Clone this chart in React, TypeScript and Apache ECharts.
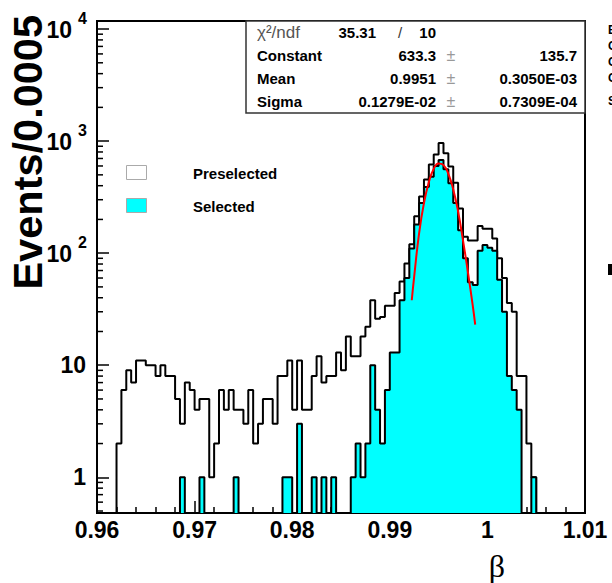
import React, { useEffect, useRef } from 'react';
import * as echarts from 'echarts';

const X_MIN = 0.96;
const X_MAX = 1.01;
const X_STEP = 0.01;
const BIN_WIDTH = 0.0005;
const Y_MIN = 0.48;
const Y_MAX = 11800;

// Preselected counts per bin (100 bins of 0.0005 from 0.96)
const preselected = [
  0, 0, 0, 0, 2, 6, 9, 7, 11, 11,
  10, 10, 8, 10, 8, 8, 5, 3, 7, 6,
  4, 5, 5, 1, 2, 6, 4, 6, 4, 4,
  3, 6, 2, 3, 5, 5, 3, 8, 8, 11,
  4, 11, 4, 4, 8, 12, 7, 8, 8, 13,
  9, 18, 12, 12, 18, 22, 38, 26, 27, 34,
  34, 44, 56, 81, 120, 213, 320, 455, 620, 760,
  960, 780, 595, 425, 250, 140, 130, 130, 175, 165,
  165, 135, 90, 60, 36, 30, 8, 8, 2, 1,
  0, 0, 0, 0, 0, 0, 0, 0, 0, 0,
];

// Selected counts per bin
const selected = [
  0, 0, 0, 0, 0, 0, 0, 0, 0, 0,
  0, 0, 0, 0, 0, 0, 0, 1, 0, 0,
  0, 1, 0, 0, 0, 0, 0, 0, 1, 0,
  0, 0, 0, 0, 0, 0, 0, 0, 1, 1,
  0, 3, 0, 0, 1, 0, 1, 0, 1, 0,
  0, 0, 1, 2, 1, 2, 10, 4, 2, 6,
  13, 13, 38, 60, 110, 180, 280, 390, 480, 600,
  680, 560, 420, 280, 160, 90, 55, 52, 105, 118,
  112, 105, 58, 30, 8, 6, 4, 0, 0, 1,
  0, 0, 0, 0, 0, 0, 0, 0, 0, 0,
];

// Gaussian fit curve
const fitX = [0.99225, 0.9925, 0.993, 0.9935, 0.994, 0.9945, 0.995, 0.9955, 0.996, 0.9965, 0.997, 0.9975, 0.998, 0.9985, 0.99875];
const fitY = [38, 62, 150, 280, 430, 565, 632, 610, 510, 370, 235, 130, 68, 34, 23];

// y tick labels written as 10^n
const yPowerLabels = [2, 3, 4];

const yMinorTicks = [
  0.5, 0.6, 0.7, 0.8, 0.9,
  2, 3, 4, 5, 6, 7, 8, 9,
  20, 30, 40, 50, 60, 70, 80, 90,
  200, 300, 400, 500, 600, 700, 800, 900,
  2000, 3000, 4000, 5000, 6000, 7000, 8000, 9000,
];

const statsLabels = ['Constant', 'Mean', 'Sigma'];
const statsValues = ['633.3', '0.9951', '0.1279E-02'];
const statsErrors = ['135.7', '0.3050E-03', '0.7309E-04'];
const chiValue = '35.31';
const ndfValue = '10';

const legendNames = ['Preselected', 'Selected'];

const SANS = 'Liberation Sans, Arial, Helvetica, sans-serif';

function stepData(counts: number[]) {
  const pts: number[][] = [];
  for (let i = 0; i < counts.length; i++) {
    pts.push([X_MIN + i * BIN_WIDTH, Math.max(counts[i], Y_MIN)]);
  }
  pts.push([X_MAX, Math.max(counts[counts.length - 1], Y_MIN)]);
  return pts;
}

function txt(x: number, y: number, text: string, opts: any = {}) {
  const align = opts.align || 'left';
  return {
    type: 'text',
    x,
    y,
    z: 20,
    rotation: opts.rotation || 0,
    style: {
      text,
      fill: opts.color || '#000',
      fontSize: opts.fontSize || 15,
      fontWeight: opts.fontWeight || 'bold',
      fontFamily: opts.fontFamily || SANS,
      align,
      textAlign: align,
      verticalAlign: 'middle',
      textVerticalAlign: 'middle',
    },
  };
}

export default function App() {
  const ref = useRef<HTMLDivElement>(null);

  useEffect(() => {
    if (!ref.current) return;
    const chart = echarts.init(ref.current, null, { renderer: 'svg' });

    const rowY = [55, 78, 101];
    const graphics: any[] = [
      {
        type: 'rect',
        z: 15,
        shape: { x: 246, y: 21, width: 339, height: 92 },
        style: { fill: '#fff', stroke: '#333', lineWidth: 1.5 },
      },
      txt(257, 32, 'χ²/ndf', { fontWeight: 'normal', color: '#555', fontSize: 17 }),
      txt(376, 32, chiValue, { align: 'right' }),
      txt(400, 32, '/', { align: 'center', fontWeight: 'normal', color: '#333' }),
      txt(436, 32, ndfValue, { align: 'right' }),
    ];
    statsLabels.forEach((l, i) => {
      graphics.push(txt(257, rowY[i], l));
      graphics.push(txt(436, rowY[i], statsValues[i], { align: 'right' }));
      graphics.push(txt(451, rowY[i], '±', { align: 'center', fontWeight: 'normal', color: '#999', fontSize: 16 }));
      graphics.push(txt(577, rowY[i], statsErrors[i], { align: 'right' }));
    });
    // legend
    graphics.push({
      type: 'rect', z: 15,
      shape: { x: 126.5, y: 165.5, width: 20, height: 14 },
      style: { fill: '#fff', stroke: '#aaa', lineWidth: 1 },
    });
    graphics.push({
      type: 'rect', z: 15,
      shape: { x: 126.5, y: 198.5, width: 20, height: 14 },
      style: { fill: '#00ffff', stroke: '#aaa', lineWidth: 1 },
    });
    graphics.push(txt(193, 173, legendNames[0]));
    graphics.push(txt(193, 206, legendNames[1]));
    // axis titles
    graphics.push(txt(27, 15, 'Events/0.0005', { align: 'right', fontSize: 41.5, rotation: Math.PI / 2 }));
    graphics.push(txt(497, 566, 'β', { align: 'center', fontSize: 32, fontWeight: 'normal', fontFamily: 'Liberation Serif, DejaVu Serif, serif' }));
    // clipped text of the neighbouring panel at the right edge
    const edgeTexts = ['E', 'C', 'C', 'C', 'S'];
    const edgeY = [30, 46, 62, 78, 101];
    edgeTexts.forEach((t, i) => graphics.push(txt(608, edgeY[i], t, { fontSize: 12 })));
    graphics.push({ type: 'rect', z: 15, shape: { x: 608, y: 264, width: 4, height: 11 }, style: { fill: '#000' } });

    const option: any = {
      animation: false,
      backgroundColor: '#fff',
      grid: {
        left: 97,
        top: 21,
        width: 488,
        height: 492,
        show: true,
        borderColor: '#000',
        borderWidth: 2,
        backgroundColor: '#fff',
        containLabel: false,
        outerBoundsMode: 'none',
      },
      xAxis: {
        type: 'value',
        min: X_MIN,
        max: X_MAX,
        interval: X_STEP,
        axisLine: { show: true, onZero: false, lineStyle: { color: '#000', width: 2 } },
        axisTick: { show: true, inside: true, length: 12, lineStyle: { color: '#000', width: 1.5 } },
        minorTick: { show: true, splitNumber: 5, length: 6, lineStyle: { color: '#000', width: 1.5 } },
        splitLine: { show: false },
        minorSplitLine: { show: false },
        axisLabel: {
          show: true,
          margin: 5,
          color: '#000',
          fontSize: 23,
          fontWeight: 'bold',
          fontFamily: SANS,
          formatter: (v: number) => String(Math.round(v * 100) / 100),
        },
      },
      yAxis: {
        type: 'log',
        logBase: 10,
        min: Y_MIN,
        max: Y_MAX,
        axisLine: { show: true, onZero: false, lineStyle: { color: '#000', width: 2 } },
        axisTick: { show: true, inside: true, length: 12, lineStyle: { color: '#000', width: 1.5 } },
        splitLine: { show: false },
        minorTick: { show: false },
        axisLabel: {
          show: true,
          margin: 11,
          color: '#000',
          fontSize: 23,
          fontWeight: 'bold',
          fontFamily: SANS,
          showMinLabel: false,
          showMaxLabel: false,
          formatter: (v: number) => {
            const l = Math.log10(v);
            const e = Math.round(l);
            if (Math.abs(l - e) > 1e-6) return '';
            if (e === 0) return '1';
            if (e === 1) return '10';
            return '';
          },
        },
      },
      series: [
        {
          name: 'Preselected',
          type: 'line',
          step: 'end',
          data: stepData(preselected),
          symbol: 'none',
          lineStyle: { color: '#000', width: 2 },
          z: 2,
        },
        {
          name: 'Selected',
          type: 'line',
          step: 'end',
          data: stepData(selected),
          symbol: 'none',
          lineStyle: { color: '#000', width: 2 },
          areaStyle: { color: '#00ffff', opacity: 1, origin: 'start' },
          z: 3,
        },
        {
          name: 'fit',
          type: 'line',
          smooth: true,
          data: fitX.map((x, i) => [x, fitY[i]]),
          symbol: 'none',
          lineStyle: { color: '#ff0000', width: 2 },
          z: 4,
        },
        {
          name: 'yMinor',
          type: 'custom',
          data: yMinorTicks.map((v) => [X_MIN, v]),
          silent: true,
          z: 5,
          renderItem: (params: any, api: any) => {
            const p = api.coord([api.value(0), api.value(1)]);
            return {
              type: 'line',
              shape: { x1: p[0], y1: p[1], x2: p[0] + 6, y2: p[1] },
              style: { stroke: '#000', lineWidth: 1.5 },
            };
          },
        },
      ],
    };
    chart.setOption(option);

    // 10^n labels placed at the axis' own pixel positions
    yPowerLabels.forEach((e) => {
      const py = chart.convertToPixel({ yAxisIndex: 0 }, Math.pow(10, e)) as number;
      graphics.push(txt(72, py + 1, '10', { align: 'right', fontSize: 23 }));
      graphics.push(txt(78, py - 11, String(e), { align: 'left', fontSize: 16 }));
    });
    chart.setOption({ graphic: graphics });

    return () => chart.dispose();
  }, []);

  return (
    <div
      ref={ref}
      style={{ position: 'absolute', left: 0, top: 0, width: 612, height: 583, background: '#fff' }}
    />
  );
}
